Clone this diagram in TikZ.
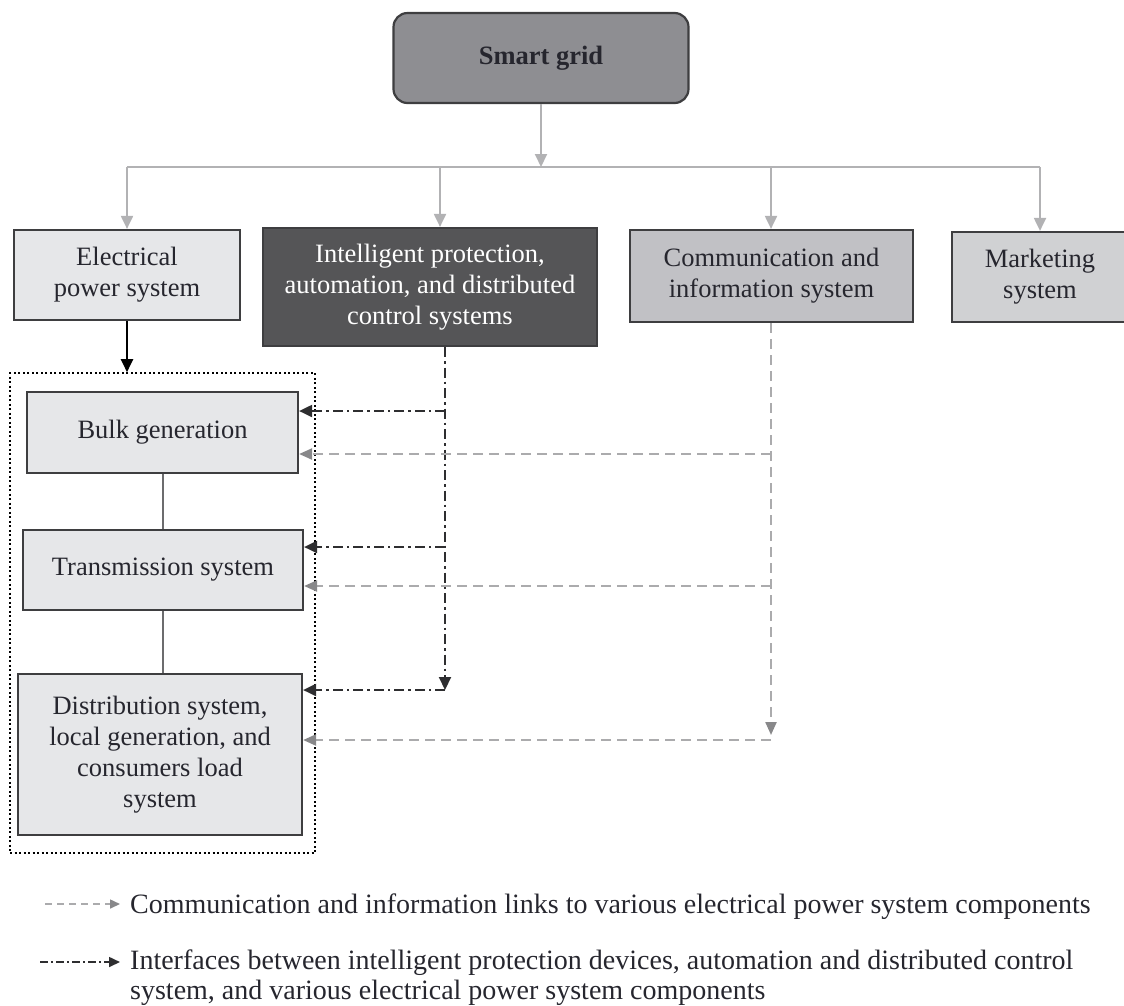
\documentclass[tikz,border=0pt]{standalone}
\usepackage{fontspec}
\setmainfont{Liberation Serif}
\usetikzlibrary{arrows.meta,calc}

\definecolor{sgfill}{HTML}{8E8E92}
\definecolor{lightbox}{HTML}{E6E7E9}
\definecolor{darkbox}{HTML}{555557}
\definecolor{commfill}{HTML}{C1C1C5}
\definecolor{mktfill}{HTML}{D0D1D3}
\definecolor{frame}{HTML}{3E3E40}
\definecolor{feedgray}{HTML}{B2B2B4}
\definecolor{linkgray}{HTML}{ABABAD}
\definecolor{linkhead}{HTML}{88888A}
\definecolor{ctrlcol}{HTML}{2E2E30}
\definecolor{inkcol}{HTML}{26262E}
\definecolor{joincol}{HTML}{6C6C6E}

\tikzset{
  box/.style={draw=frame, line width=2.2pt, inner sep=0pt, align=center,
    text=inkcol, font=\fontsize{26.5}{31}\selectfont},
  sgbox/.style={box, rounded corners=14pt, fill=sgfill},
  feed/.style={draw=feedgray, line width=2pt},
  feedarrow/.style={feed, -{Triangle[length=13pt,width=12pt,color=feedgray,fill=feedgray]}},
  linkline/.style={draw=linkgray, line width=2.2pt, dash pattern=on 10pt off 6pt},
  linkarrow/.style={linkline, -{Triangle[length=13pt,width=11pt,color=linkhead,fill=linkhead]}},
  ctrlline/.style={draw=ctrlcol, line width=2pt, dash pattern=on 10pt off 4pt on 2.5pt off 4pt},
  ctrlarrow/.style={ctrlline, -{Triangle[length=13pt,width=12pt,color=ctrlcol,fill=ctrlcol]}},
  joinline/.style={draw=joincol, line width=2.2pt},
  legendtext/.style={anchor=base west, inner sep=0pt, text=inkcol, align=left,
    font=\fontsize{28}{30}\selectfont}
}

\begin{document}
\begin{tikzpicture}[x={(1pt,0)}, y={(0,-1pt)}]
\useasboundingbox (0,0) rectangle (1124,1005);
\clip (0,0) rectangle (1124,1005);

% top level
\node[sgbox, minimum width=295pt, minimum height=90pt] (sg) at (541,58) {\textbf{Smart grid}};

% second row of systems
\node[box, fill=lightbox, minimum width=226pt, minimum height=90pt] (eps) at (127,275)
  {Electrical\\power system};
\node[box, fill=darkbox, text=white, minimum width=334pt, minimum height=118pt] (ipa) at (430,287)
  {Intelligent protection,\\automation, and distributed\\control systems};
\node[box, fill=commfill, minimum width=283pt, minimum height=92pt] (cis) at (771.5,276)
  {Communication and\\information system};
\node[box, fill=mktfill, minimum width=176pt, minimum height=90pt] (mkt) at (1040,277)
  {Marketing\\system};

% distribution of the smart grid into its systems
\coordinate (hub) at (541,167);
\coordinate (dropA) at (127,167);
\coordinate (dropB) at (440,167);
\coordinate (dropC) at (771,167);
\coordinate (dropD) at (1040,167);
\draw[feedarrow] (sg.south) -- (hub);
\draw[feed] (dropA) -- (dropD);
\draw[feedarrow] (dropA) -- (dropA |- eps.north);
\draw[feedarrow] (dropB) -- (dropB |- ipa.north);
\draw[feedarrow] (dropC) -- (dropC |- cis.north);
\draw[feedarrow] (dropD) -- (dropD |- mkt.north);

% electrical power system components
\node[draw=black, line width=1.6pt, dash pattern=on 2pt off 2.5pt, minimum width=305pt,
  minimum height=480pt, inner sep=0pt] (grp) at (162.5,613) {};
\draw[draw=black, line width=2pt, -{Triangle[length=13pt,width=12pt]}] (eps.south) -- (eps.south |- grp.north);

\node[box, fill=lightbox, minimum width=271pt, minimum height=81pt] (bulk) at (162.5,432.5)
  {Bulk generation};
\node[box, fill=lightbox, minimum width=280pt, minimum height=80pt] (trans) at (163,570)
  {Transmission system};
\node[box, fill=lightbox, minimum width=284pt, minimum height=161pt] (dist) at (160,754.5)
  {Distribution system,\\local generation, and\\consumers load\\system};

\coordinate (jx) at (163,0);
\draw[joinline] (bulk.south -| jx) -- (trans.north -| jx);
\draw[joinline] (trans.south -| jx) -- (dist.north -| jx);

% protection / automation interfaces
\coordinate (c1) at (445,411);
\coordinate (c2) at (445,547);
\coordinate (c3) at (445,690);
\draw[ctrlarrow] (ipa.south -| c1) -- (c3);
\draw[ctrlarrow] (c1) -- (c1 -| bulk.east);
\draw[ctrlarrow] (c2) -- (c2 -| trans.east);
\draw[ctrlarrow] (c3) -- (c3 -| dist.east);

% communication and information links
\coordinate (d1) at (771,454);
\coordinate (d2) at (771,586);
\coordinate (d3) at (771,740);
\draw[linkarrow, shorten >=5pt] (cis.south -| d1) -- (d3);
\draw[linkarrow] (d1) -- (d1 -| bulk.east);
\draw[linkarrow] (d2) -- (d2 -| trans.east);
\draw[linkarrow] (d3) -- (d3 -| dist.east);

% legend
\node[legendtext] (lg1) at (130,913)
  {Communication and information links to various electrical power system components};
\node[legendtext] (lg2) at (130,999)
  {Interfaces between intelligent protection devices, automation and distributed control\\
   system, and various electrical power system components};
\coordinate (lgA) at (45,904);
\coordinate (lgB) at (40,962);
\draw[linkline, line width=1.6pt, dash pattern=on 7pt off 5pt,
  -{Triangle[length=10pt,width=9pt,color=linkhead,fill=linkhead]}] (lgA) -- ($(lgA -| lg1.west)+(-10,0)$);
\draw[ctrlline, line width=1.6pt, dash pattern=on 8pt off 3pt on 2pt off 3pt,
  -{Triangle[length=11pt,width=10pt,color=ctrlcol,fill=ctrlcol]}] (lgB) -- ($(lgB -| lg2.west)+(-10,0)$);
\end{tikzpicture}
\end{document}
